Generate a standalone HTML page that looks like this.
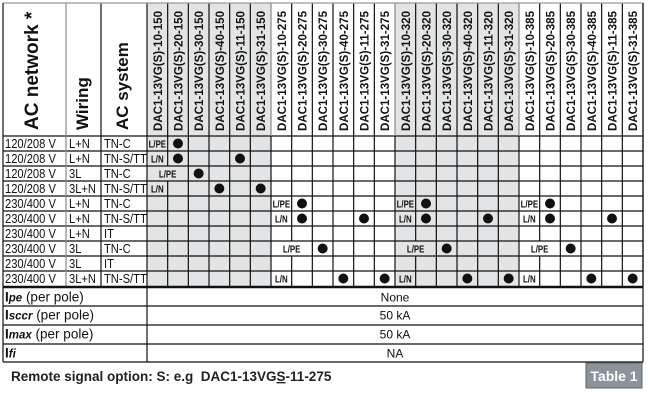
<!DOCTYPE html>
<html><head><meta charset="utf-8"><style>
html,body{margin:0;padding:0;background:#fff;width:650px;height:401px;overflow:hidden}
svg{display:block;font-family:"Liberation Sans",sans-serif}
</style></head><body>
<svg id="t" width="650" height="401" viewBox="0 0 650 401"></svg>
<script>
const models = ["10-150","20-150","30-150","40-150","11-150","31-150","10-275","20-275","30-275","40-275","11-275","31-275","10-320","20-320","30-320","40-320","11-320","31-320","10-385","20-385","30-385","40-385","11-385","31-385"];
const networks = ["120/208 V","120/208 V","120/208 V","120/208 V","230/400 V","230/400 V","230/400 V","230/400 V","230/400 V","230/400 V"];
const wirings = ["L+N","L+N","3L","3L+N","L+N","L+N","L+N","3L","3L","3L+N"];
const systems = ["TN-C","TN-S/TT","TN-C","TN-S/TT","TN-C","TN-S/TT","IT","TN-C","IT","TN-S/TT"];
const rowLabels = [
 [["L/PE",0,1]],
 [["L/N",0,1]],
 [["L/PE",0,2]],
 [["L/N",0,1]],
 [["L/PE",6,1],["L/PE",12,1],["L/PE",18,1]],
 [["L/N",6,1],["L/N",12,1],["L/N",18,1]],
 [],
 [["L/PE",6,2],["L/PE",12,2],["L/PE",18,2]],
 [],
 [["L/N",6,1],["L/N",12,1],["L/N",18,1]]
];
const rowDots = [[1],[1,4],[2],[3,5],[7,13,19],[7,10,13,16,19,22],[],[8,14,20],[],[9,11,15,17,21,23]];
const propNames = [["pe","(per pole)"],["sccr","(per pole)"],["max","(per pole)"],["fi",""]];
const propValues = ["None","50 kA","50 kA","NA"];
const shaded = [0,1,2,3,4,5,12,13,14,15,16,17];

const svg=document.getElementById('t');const NS="http://www.w3.org/2000/svg";
function mk(tag,a,parent){const e=document.createElementNS(NS,tag);for(const k in a)e.setAttribute(k,a[k]);(parent||svg).appendChild(e);return e;}
const L=3,R=643,X0=147,TOP=3,HB=136,RH=15,N=24,CW=(R-X0)/N;
const colX=i=>X0+i*CW, rowY=r=>HB+r*RH;
const BOT=rowY(networks.length);
shaded.forEach(i=>{const e=mk('rect',{x:colX(i),y:TOP,width:CW,height:BOT-TOP,fill:'#e3e4e5'});

});
[["AC network *",38,19],["Wiring",88,17],["AC system",128,17]].forEach(([t,x,fs])=>{
 const e=mk('text',{x:0,y:0,transform:`translate(${x},130) rotate(-90)`,'font-size':fs,'font-weight':'bold',fill:'#111'});e.textContent=t;
 
 });
models.forEach((m,i)=>{const e=mk('text',{transform:`translate(${colX(i)+CW/2+4.5},131) rotate(-90)`,'font-size':11.8,'font-weight':'bold',fill:'#111',textLength:120,lengthAdjust:'spacingAndGlyphs'});
 e.textContent="DAC1-13VG(S)-"+m;
 
 });
for(let r=0;r<networks.length;r++){const y=rowY(r)+12;
 [[networks[r],5,58],[wirings[r],69,null],[systems[r],104,null]].forEach(([t,x,w])=>{
 const a={x,y,'font-size':13,fill:'#111',transform:`translate(${x},0) scale(0.86,1) translate(${-x},0)`};
 const e=mk('text',a);e.textContent=t;
 
 });
 rowLabels[r].forEach(([t,c,s])=>{const cx=colX(c)+CW*s/2;const e=mk('text',{x:cx,y:rowY(r)+11.5,'font-size':10.5,'font-weight':'bold','text-anchor':'middle',fill:'#111',transform:`translate(${cx},0) scale(0.75,1) translate(${-cx},0)`});e.textContent=t;
 
 });
 rowDots[r].forEach(c=>{const e=mk('circle',{cx:colX(c)+CW/2,cy:rowY(r)+RH/2,r:5,fill:'#111'});
 
 });
}
const g=mk('g',{stroke:'#111','stroke-width':1.2,fill:'none'});
mk('line',{x1:L,y1:HB,x2:R,y2:HB},g);
for(let r=1;r<networks.length;r++)mk('line',{x1:L,y1:rowY(r),x2:R,y2:rowY(r)},g);
[66,101].forEach(x=>mk('line',{x1:x,y1:TOP,x2:x,y2:BOT,stroke:x==66?'#888':'#111'},g));
for(let i=0;i<=N;i++){const x=colX(i);
 if(i==0||i==N){mk('line',{x1:x,y1:TOP,x2:x,y2:BOT},g);continue;}
 mk('line',{x1:x,y1:TOP,x2:x,y2:HB,stroke:(i==6||i==12||i==18)?'#888':'#111'},g);
 for(let r=0;r<networks.length;r++){
  const merged=rowLabels[r].some(([t,c,s])=>s==2&&i==c+1);
  if(!merged)mk('line',{x1:x,y1:rowY(r),x2:x,y2:rowY(r+1)},g);}
}
mk('line',{x1:L,y1:TOP,x2:R,y2:TOP,stroke:'#999'},g);
mk('line',{x1:L,y1:TOP,x2:L,y2:362},g);
mk('line',{x1:R,y1:TOP,x2:R,y2:362},g);
mk('line',{x1:L,y1:BOT+1,x2:R,y2:BOT+1,'stroke-width':2.5},g);
const PY=[288,306,325,344,362];
propNames.forEach(([sub,rest],k)=>{
 const y=PY[k]+13.5;
 const e=mk('text',{x:5,y,'font-size':13.5,fill:'#111'});
 e.innerHTML=`<tspan font-weight="bold">I</tspan><tspan font-weight="bold" font-style="italic" font-size="11.5">${sub}</tspan> ${rest}`;
 
 
 const v=mk('text',{x:(X0+R)/2,y,'font-size':12,'text-anchor':'middle',fill:'#111'});v.textContent=propValues[k];
 
 
 if(k<4)mk('line',{x1:L,y1:PY[k+1],x2:R,y2:PY[k+1],stroke:'#111','stroke-width':1.2});
});
mk('line',{x1:X0,y1:288,x2:X0,y2:362,stroke:'#111','stroke-width':1.2});
const f=mk('text',{x:11,y:381,'font-size':13.5,'font-weight':'bold',fill:'#222'});
f.innerHTML='Remote signal option: S: e.g&#160; DAC1-13VG<tspan text-decoration="underline">S</tspan>-11-275';


const b=mk('rect',{x:586,y:363,width:56,height:25,fill:'#8b939d',stroke:'#5f666e','stroke-width':1});


const bt=mk('text',{x:614,y:381,'font-size':14,'font-weight':'bold',fill:'#fff','text-anchor':'middle'});bt.textContent='Table 1';


</script>
</body></html>
